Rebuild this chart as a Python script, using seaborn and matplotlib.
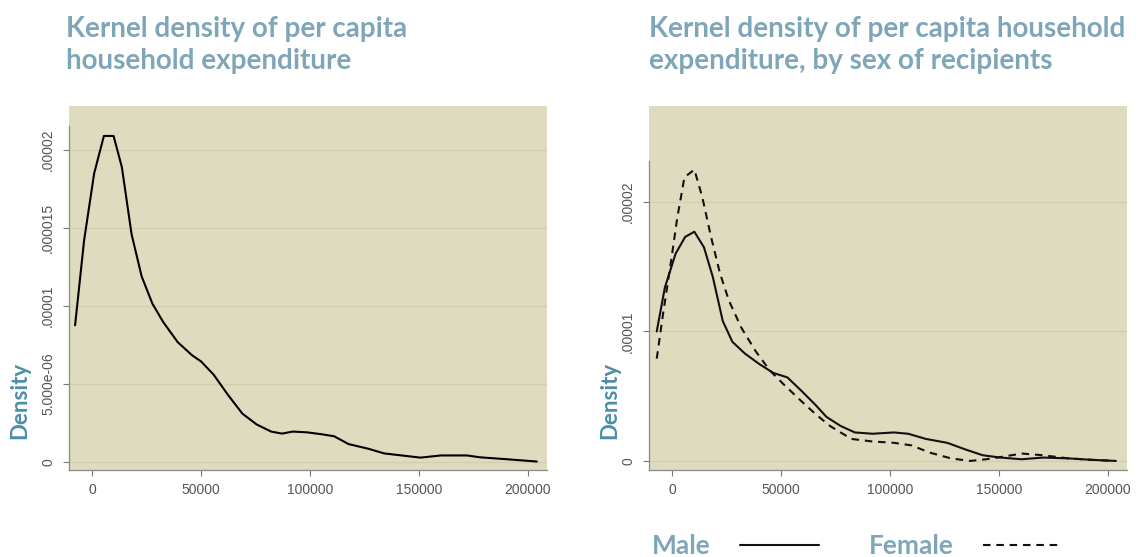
import numpy as np
import pandas as pd
import matplotlib
matplotlib.use("Agg")
import matplotlib.pyplot as plt
import seaborn as sns

# overall curve
all_x = [-7760, -3630, 990, 5450, 9900, 13700, 18150, 22770, 27700, 32670,
         39270, 45900, 50000, 55780, 62380, 68980, 75580, 82180, 87130, 92080,
         98680, 105280, 111060, 117660, 126730, 134000, 150650, 160000, 172000,
         178000, 190000, 204000]
all_y = [8.76e-6, 14.2e-6, 18.5e-6, 20.9e-6, 20.9e-6, 18.9e-6, 14.6e-6, 11.9e-6, 10.15e-6, 8.97e-6,
         7.69e-6, 6.84e-6, 6.45e-6, 5.6e-6, 4.3e-6, 3.1e-6, 2.4e-6, 1.95e-6, 1.82e-6, 1.95e-6,
         1.9e-6, 1.78e-6, 1.65e-6, 1.15e-6, 0.85e-6, 0.55e-6, 0.28e-6, 0.42e-6, 0.42e-6,
         0.3e-6, 0.18e-6, 0.03e-6]

male_x = [-7000, -3260, 1630, 6030, 10260, 14660, 18730, 23290, 27690, 33390,
          39900, 46420, 52930, 59450, 65960, 70850, 77360, 83880, 92020, 101790,
          108300, 116450, 126220, 134360, 142500, 150650, 160420, 170190, 181600,
          193000, 203580]
male_y = [1.0e-5, 1.34e-5, 1.60e-5, 1.73e-5, 1.77e-5, 1.65e-5, 1.42e-5, 1.08e-5, 0.92e-5, 0.83e-5,
          0.75e-5, 0.68e-5, 0.645e-5, 0.54e-5, 0.43e-5, 0.34e-5, 0.27e-5, 0.22e-5, 0.21e-5, 0.22e-5,
          0.21e-5, 0.17e-5, 0.14e-5, 0.09e-5, 0.044e-5, 0.026e-5, 0.013e-5, 0.026e-5, 0.02e-5,
          0.008e-5, 0.0]

female_x = [-7000, -4070, -800, 2440, 5700, 10260, 13840, 17910, 21990, 26060,
            31760, 38270, 44790, 51300, 59450, 65960, 72480, 82250, 92020, 101790,
            109930, 118080, 127850, 136810, 144140, 150650, 160420, 170190, 181600,
            193000, 203580]
female_y = [0.79e-5, 1.14e-5, 1.50e-5, 1.88e-5, 2.19e-5, 2.25e-5, 2.04e-5, 1.73e-5, 1.45e-5, 1.24e-5,
            1.03e-5, 0.85e-5, 0.70e-5, 0.59e-5, 0.46e-5, 0.36e-5, 0.27e-5, 0.17e-5, 0.15e-5, 0.14e-5,
            0.12e-5, 0.065e-5, 0.02e-5, 0.0, 0.013e-5, 0.03e-5, 0.057e-5, 0.044e-5, 0.02e-5,
            0.008e-5, 0.0]

xticks = [0, 50000, 100000, 150000, 200000]
left_yticks = [0, 5e-6, 1e-5, 1.5e-5, 2e-5]
left_ylabels = ["0", "5.000e-06", ".00001", ".000015", ".00002"]
right_yticks = [0, 1e-5, 2e-5]
right_ylabels = ["0", ".00001", ".00002"]

title_left = "Kernel density of per capita\nhousehold expenditure"
title_right = "Kernel density of per capita household\nexpenditure, by sex of recipients"

df_all = pd.DataFrame({"x": all_x, "y": all_y})
df_sex = pd.concat([
    pd.DataFrame({"x": male_x, "y": male_y, "sex": "Male"}),
    pd.DataFrame({"x": female_x, "y": female_y, "sex": "Female"}),
])

bg = "#dfdbbe"
grid_c = "#d2ceb0"
title_c = "#7fa6b8"
ylab_c = "#4d8fa8"
tick_c = "#555555"

sns.set_style("white")
plt.rcParams["font.family"] = ["Liberation Sans", "DejaVu Sans"]

fig = plt.figure(figsize=(11.46, 5.57), dpi=100)
ax1 = fig.add_axes([69 / 1146, 87 / 557, 478 / 1146, 364 / 557])
ax2 = fig.add_axes([649 / 1146, 87 / 557, 478 / 1146, 364 / 557])

sns.lineplot(data=df_all, x="x", y="y", ax=ax1, color="black", linewidth=1.5, sort=False)
sns.lineplot(data=df_sex, x="x", y="y", hue="sex", style="sex", ax=ax2, sort=False,
             palette={"Male": "#111111", "Female": "#111111"},
             dashes={"Male": "", "Female": (3.6, 2.8)}, linewidth=1.5)

handles, labels = ax2.get_legend_handles_labels()
ax2.get_legend().remove()

def style_axis(ax, yticks, ylabels, ylim, ytop, ylab_x):
    ax.set_facecolor(bg)
    ax.set_xlim(-10550, 208700)
    ax.set_ylim(*ylim)
    ax.set_xticks(xticks)
    ax.set_xticklabels([str(t) for t in xticks])
    ax.set_yticks(yticks)
    ax.set_yticklabels(ylabels, rotation=90, va="center")
    for t in yticks:
        ax.axhline(t, color=grid_c, linewidth=1.0, zorder=0)
    for s in ["top", "right"]:
        ax.spines[s].set_visible(False)
    ax.spines["left"].set_color("#8a8a80")
    ax.spines["bottom"].set_color("#8a8a80")
    ax.spines["left"].set_linewidth(0.9)
    ax.spines["bottom"].set_linewidth(0.9)
    ax.spines["left"].set_bounds(ylim[0], ytop)
    ax.tick_params(axis="both", length=4, width=0.8, color="#777777",
                   labelcolor=tick_c, labelsize=10, left=True, bottom=True)
    ax.tick_params(axis="y", pad=6)
    ax.tick_params(axis="x", pad=5)
    ax.set_xlabel("")
    ax.set_ylabel("Density", color=ylab_c, fontsize=16, fontweight="bold",
                  family=["Lato", "DejaVu Sans"], va="center")
    ax.yaxis.set_label_coords(ylab_x, 0.19)

style_axis(ax1, left_yticks, left_ylabels, (-0.513e-6, 2.282e-5), max(all_y) * 1.03, -0.1025)
style_axis(ax2, right_yticks, right_ylabels, (-0.07e-5, 2.741e-5), max(female_y) * 1.03, -0.0816)

fig.text(66 / 1146, 1 - 16 / 557, title_left, color=title_c, fontsize=20, fontweight="bold",
         family=["Lato", "DejaVu Sans"], va="top", ha="left", linespacing=1.3)
fig.text(649 / 1146, 1 - 16 / 557, title_right, color=title_c, fontsize=20, fontweight="bold",
         family=["Lato", "DejaVu Sans"], va="top", ha="left", linespacing=1.3)

leg = fig.legend(handles, labels, loc="lower left", bbox_to_anchor=(628 / 1146, -0.045),
                 ncol=2, markerfirst=False, frameon=False, handlelength=3.0,
                 handletextpad=1.1, columnspacing=1.9,
                 prop={"family": ["Lato", "DejaVu Sans"], "weight": "bold", "size": 19})
for t in leg.get_texts():
    t.set_color(title_c)

fig.savefig("out.png", dpi=100)
